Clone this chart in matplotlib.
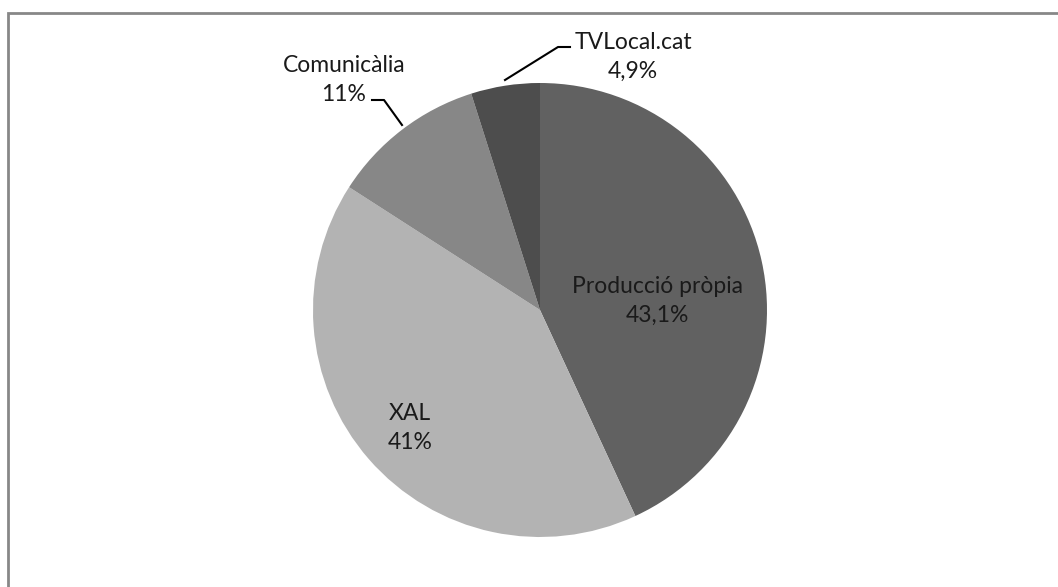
import matplotlib
matplotlib.use("Agg")
import matplotlib.pyplot as plt
from matplotlib.patches import Rectangle

# dades
categories = ["Producció pròpia", "XAL", "Comunicàlia", "TVLocal.cat"]
valors = [43.1, 41, 11, 4.9]
etiquetes_pct = ["43,1%", "41%", "11%", "4,9%"]
colors = ["#616161", "#b3b3b3", "#878787", "#4d4d4d"]

W, H = 1058, 587
fig = plt.figure(figsize=(W / 100, H / 100), dpi=100)
ax = fig.add_axes([0, 0, 1, 1])

# marc (només es veuen el costat superior i l'esquerre)
fig.patches.append(Rectangle((8 / W, -0.1), 1.2, (H - 12.5) / H + 0.1,
                             transform=fig.transFigure, fill=False,
                             edgecolor="#878787", linewidth=2))

cx, cy, r = 540, 310, 227
# y invertida: counterclock=True amb l'eix invertit es veu en sentit horari
ax.pie(valors, colors=colors, startangle=-90, counterclock=True,
       center=(cx, cy), radius=r, frame=True,
       wedgeprops=dict(linewidth=0))
ax.set_xlim(0, W)
ax.set_ylim(H, 0)
ax.axis("off")

font = dict(family="Lato", fontsize=16.5, color="#1a1a1a",
            ha="center", va="center", linespacing=1.5)
pos = [(657, 301), (410, 428), (344, 80), (633, 57)]
for cat, pct, (x, y) in zip(categories, etiquetes_pct, pos):
    ax.text(x, y, cat + "\n" + pct, **font)

# línies guia
ax.plot([372, 384, 402], [100, 100, 125], color="black", linewidth=1.5)
ax.plot([505, 558, 570], [80, 47, 47], color="black", linewidth=1.5)

fig.savefig("out.png", dpi=100)
